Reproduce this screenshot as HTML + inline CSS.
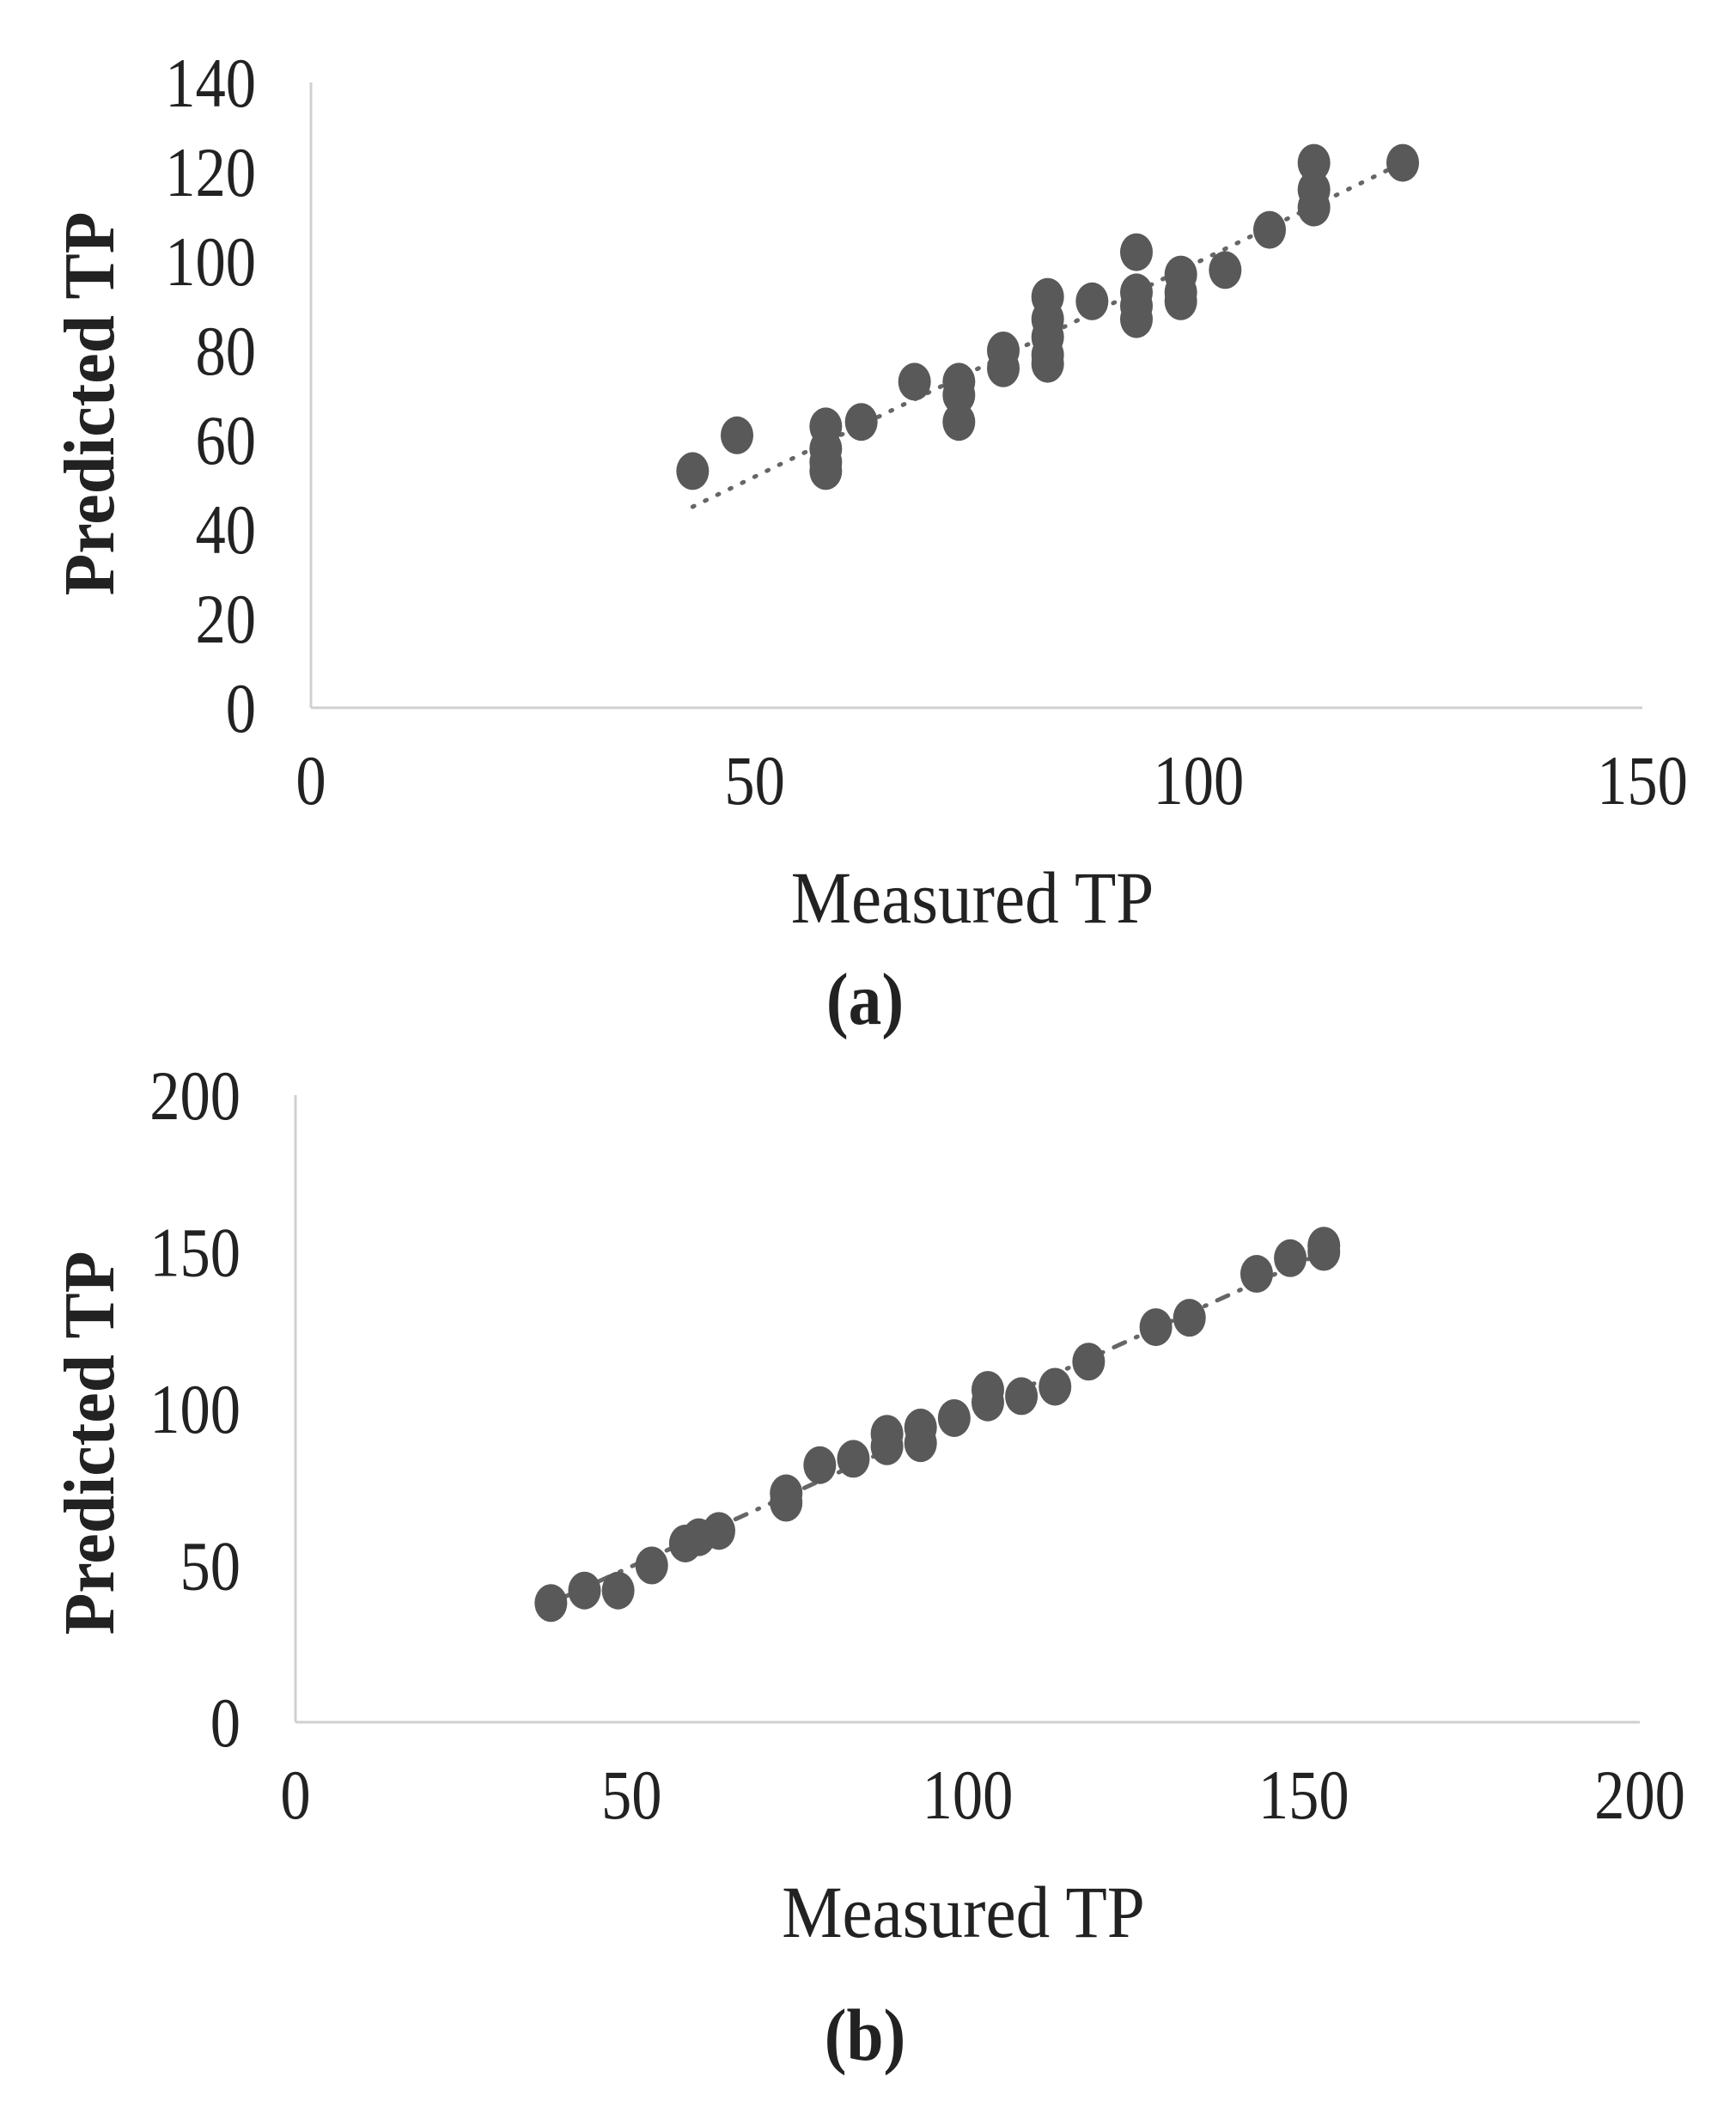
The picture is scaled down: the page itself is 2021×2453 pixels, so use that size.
<!DOCTYPE html>
<html><head><meta charset="utf-8"><style>
body{margin:0;background:#fff;}
svg text{font-family:"Liberation Serif",serif;fill:#222;}
</style></head><body>
<svg id="svg" width="2021" height="2448" viewBox="0 0 2021 2448" xmlns="http://www.w3.org/2000/svg"></svg>
<script>
// Panel (a)
const aMeasured=[43,48,58,58,58,58,62,68,73,73,73,78,78,83,83,83,83,83,88,93,93,93,93,98,98,98,103,108,113,113,113,123];
const aPredicted=[53,61,63,58,55,53,64,73,73,70,64,80,76,92,87,83,79,77,91,102,93,90,87,97,93,91,98,107,122,116,112,122];
const aTrendX=[43,123];
const aTrendY=[45,122];
const aXTicks=[0,50,100,150];
const aYTicks=[0,20,40,60,80,100,120,140];
// Panel (b)
const bMeasured=[38,43,48,53,58,60,63,73,73,78,83,88,88,93,93,98,103,103,108,113,118,128,133,143,148,153,153];
const bPredicted=[38,42,42,50,57,59,61,70,73,82,84,88,92,89,94,97,102,106,104,107,115,126,129,143,148,150,152];
const bTrendX=[38,153];
const bTrendY=[38,150];
const bXTicks=[0,50,100,150,200];
const bYTicks=[0,50,100,150,200];

const NS='http://www.w3.org/2000/svg';
const svg=document.getElementById('svg');
function mk(tag,attrs,parent){const e=document.createElementNS(NS,tag);for(const k in attrs)e.setAttribute(k,attrs[k]);(parent||svg).appendChild(e);return e;}
function txt(parent,x,y,s,size,sx,anchor,rot,weight){
  const t=mk('text',{x:0,y:0,'text-anchor':anchor,'font-size':size,'font-weight':weight||'normal',
    transform:'translate('+x+' '+y+')'+(rot?' rotate('+rot+')':'')+' scale('+sx+' 1)'},parent);
  t.textContent=s;return t;
}

function panel(id,cfg,mx,py,tx,ty,xt,yt,label){
  const g=mk('g',{});
  
  
  const sx=v=>cfg.x0+(v-cfg.xmin)/(cfg.xmax-cfg.xmin)*(cfg.x1-cfg.x0);
  const sy=v=>cfg.y0-(v-cfg.ymin)/(cfg.ymax-cfg.ymin)*(cfg.y0-cfg.y1);
  const ya=mk('line',{x1:cfg.x0,y1:cfg.y1,x2:cfg.x0,y2:cfg.y0,stroke:'#d0d0d0','stroke-width':3},g);
  
  
  const xa=mk('line',{x1:cfg.x0,y1:cfg.y0,x2:cfg.x1,y2:cfg.y0,stroke:'#d0d0d0','stroke-width':3},g);
  
  
  yt.forEach(v=>{const t=txt(g,cfg.ylx,sy(v)+28,String(v),82,0.86,'end');
    
    });
  xt.forEach(v=>{const t=txt(g,sx(v),cfg.y0+112,String(v),82,0.86,'middle');
    
    });
  const tl=mk('line',{x1:sx(tx[0]),y1:sy(ty[0]),x2:sx(tx[1]),y2:sy(ty[1]),stroke:'#666','stroke-width':5,'stroke-dasharray':cfg.dash,'stroke-linecap':'round'},g);
  
  
  mx.forEach((v,i)=>{const c=mk('ellipse',{cx:sx(v),cy:sy(py[i]),rx:19,ry:22,fill:'#595959'},g);
    
    });
  const xl=txt(g,(cfg.x0+cfg.x1)/2-5,cfg.y0+250,'Measured TP',86,0.92,'middle');
  
  
  const yl=txt(g,132,cfg.ytc,'Predicted TP',84,0.95,'middle',-90,'bold');
  
  
  const cap=txt(g,1007,cfg.cap,label,86,0.9,'middle',0,'bold');
  
  
}
panel('panel-a',{x0:362,x1:1912,y0:824,y1:96,xmin:0,xmax:150,ymin:0,ymax:140,dash:'2 14',cap:1192,ylx:298,ytc:470},aMeasured,aPredicted,aTrendX,aTrendY,aXTicks,aYTicks,'(a)');
panel('panel-b',{x0:344,x1:1909,y0:2005,y1:1275,xmin:0,xmax:200,ymin:0,ymax:200,dash:'2 14 14 14',cap:2398,ylx:280,ytc:1680},bMeasured,bPredicted,bTrendX,bTrendY,bXTicks,bYTicks,'(b)');
</script>
</body></html>
